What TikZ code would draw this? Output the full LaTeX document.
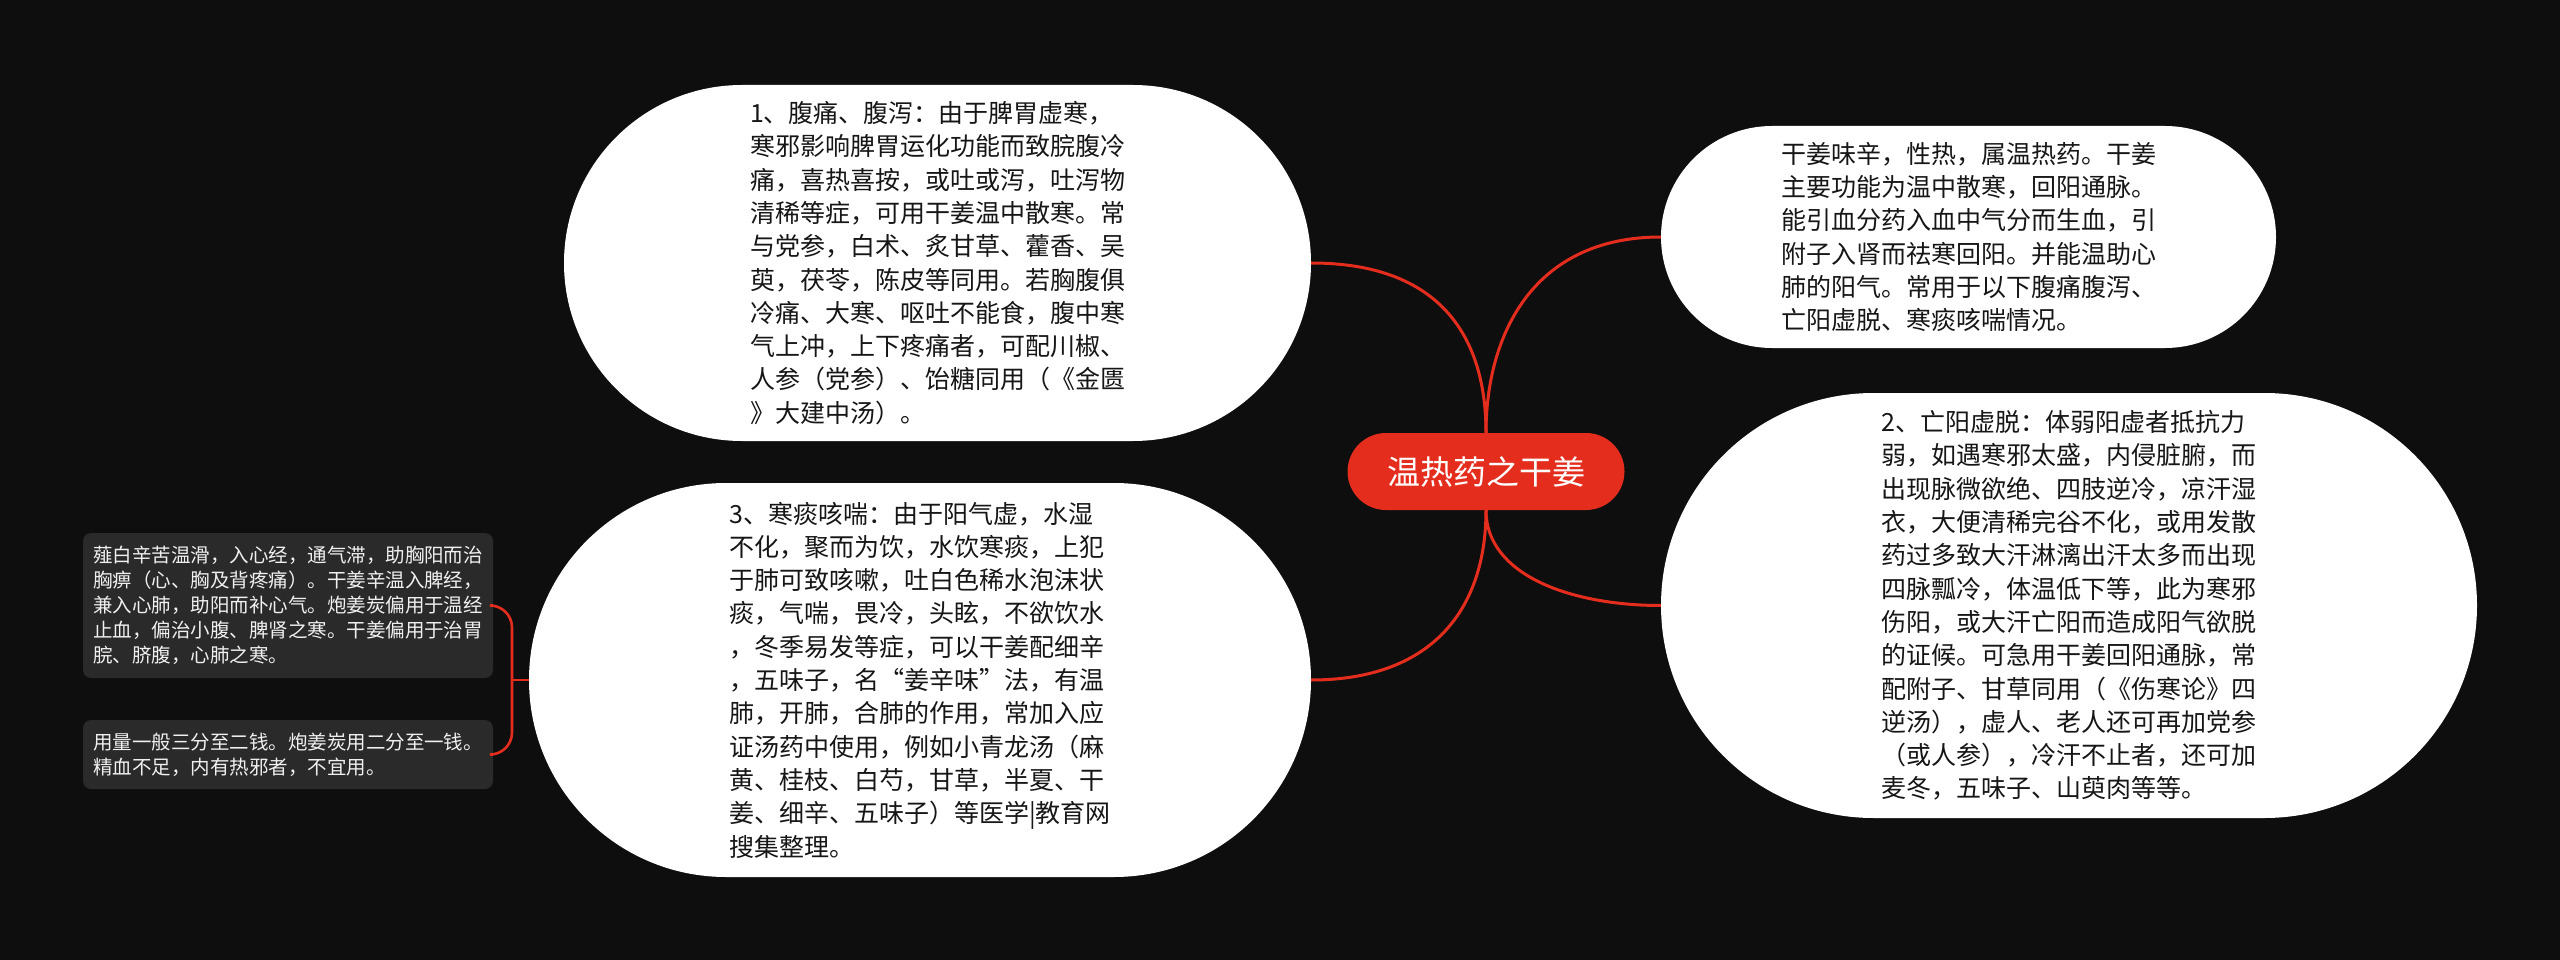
\documentclass[tikz,border=0pt]{standalone}
\usepackage{fontspec}
\setmainfont{Noto Sans CJK SC}
\definecolor{bgc}{RGB}{14,14,14}
\definecolor{boxc}{RGB}{42,42,42}
\definecolor{redc}{RGB}{229,45,30}
\definecolor{inkc}{RGB}{22,22,22}
\tikzset{
  topic/.style={fill=white, text=inkc, inner sep=0pt, align=left, font=\fontsize{25pt}{33.3pt}\selectfont},
  root/.style={fill=redc, text=white, inner sep=0pt, minimum width=277pt, minimum height=77pt, rounded corners=38.5pt, font=\fontsize{33pt}{40pt}\selectfont},
  note/.style={fill=boxc, text=white!94!black, rounded corners=8pt, inner sep=0pt, align=left, font=\fontsize{19.5pt}{25pt}\selectfont},
  link/.style={draw=redc, line width=3pt}
}
\begin{document}
\begin{tikzpicture}[x=1pt,y=-1pt]
\fill[bgc] (0,0) rectangle (2560,960);
\useasboundingbox (0,0) rectangle (2560,960);

\node[topic, minimum width=747pt, minimum height=356pt, rounded corners=178pt] (n1) at (937.5,263) {1、腹痛、腹泻：由于脾胃虚寒，\\寒邪影响脾胃运化功能而致脘腹冷\\痛，喜热喜按，或吐或泻，吐泻物\\清稀等症，可用干姜温中散寒。常\\与党参，白术、炙甘草、藿香、吴\\萸，茯苓，陈皮等同用。若胸腹俱\\冷痛、大寒、呕吐不能食，腹中寒\\气上冲，上下疼痛者，可配川椒、\\人参（党参）、饴糖同用（《金匮\\》大建中汤）。};

\node[topic, minimum width=615pt, minimum height=222pt, rounded corners=111pt] (n0) at (1968.5,237) {干姜味辛，性热，属温热药。干姜\\主要功能为温中散寒，回阳通脉。\\能引血分药入血中气分而生血，引\\附子入肾而祛寒回阳。并能温助心\\肺的阳气。常用于以下腹痛腹泻、\\亡阳虚脱、寒痰咳喘情况。};

\node[topic, minimum width=816pt, minimum height=425pt, rounded corners=212.5pt] (n2) at (2069,605.5) {2、亡阳虚脱：体弱阳虚者抵抗力\\弱，如遇寒邪太盛，内侵脏腑，而\\出现脉微欲绝、四肢逆冷，凉汗湿\\衣，大便清稀完谷不化，或用发散\\药过多致大汗淋漓出汗太多而出现\\四脉瓢冷，体温低下等，此为寒邪\\伤阳，或大汗亡阳而造成阳气欲脱\\的证候。可急用干姜回阳通脉，常\\配附子、甘草同用（《伤寒论》四\\逆汤），虚人、老人还可再加党参\\（或人参），冷汗不止者，还可加\\麦冬，五味子、山萸肉等等。};

\node[topic, minimum width=782pt, minimum height=394pt, rounded corners=197pt] (n3) at (920,680) {3、寒痰咳喘：由于阳气虚，水湿\\不化，聚而为饮，水饮寒痰，上犯\\于肺可致咳嗽，吐白色稀水泡沫状\\痰，气喘，畏冷，头眩，不欲饮水\\，冬季易发等症，可以干姜配细辛\\，五味子，名“姜辛味”法，有温\\肺，开肺，合肺的作用，常加入应\\证汤药中使用，例如小青龙汤（麻\\黄、桂枝、白芍，甘草，半夏、干\\姜、细辛、五味子）等医学|教育网\\搜集整理。};

\node[root] (c) at (1486,471.5) {温热药之干姜};

\node[note, minimum width=410pt, minimum height=145pt] (a) at (288,605.5) {薤白辛苦温滑，入心经，通气滞，助胸阳而治\\胸痹（心、胸及背疼痛）。干姜辛温入脾经，\\兼入心肺，助阳而补心气。炮姜炭偏用于温经\\止血，偏治小腹、脾肾之寒。干姜偏用于治胃\\脘、脐腹，心肺之寒。};

\node[note, minimum width=410pt, minimum height=69pt] (b) at (288,754.5) {用量一般三分至二钱。炮姜炭用二分至一钱。\\精血不足，内有热邪者，不宜用。};

\draw[link] (c.north) .. controls +(0,-95) and +(130,0) .. (n1.east);
\draw[link] (c.north) .. controls +(0,-95) and +(-130,0) .. (n0.west);
\draw[link] (c.south) .. controls +(0,100) and +(120,0) .. (n3.east);
\draw[link] (c.south) .. controls +(0,65) and +(-90,0) .. (n2.west);

\coordinate (j) at (512,680);
\draw[link, line width=2.6pt] (n3.west) -- (j);
\draw[link, line width=2.6pt, rounded corners=22pt] (j) |- (a.east);
\draw[link, line width=2.6pt, rounded corners=22pt] (j) |- (b.east);
\end{tikzpicture}
\end{document}
